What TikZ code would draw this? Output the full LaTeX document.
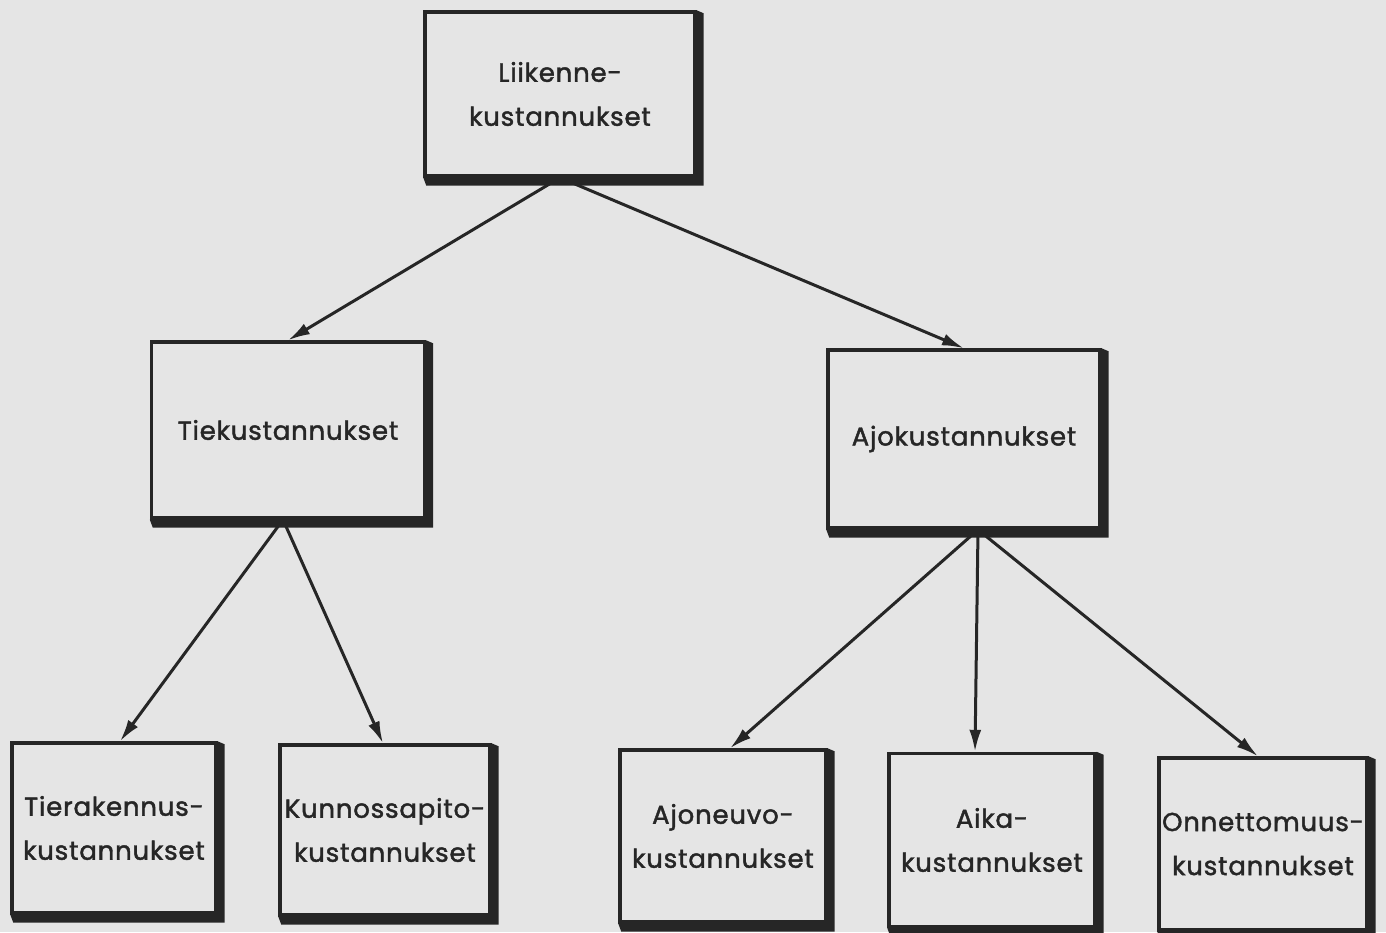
\documentclass[tikz,border=0pt]{standalone}
\usepackage{fontspec}
\setmainfont{Poppins}[LetterSpace=3, FakeBold=1.6]
\usetikzlibrary{arrows.meta,calc}
\definecolor{ink}{HTML}{262626}
\definecolor{paper}{HTML}{E5E5E5}
\newcommand\boxshadow[1]{%
  \fill[ink] (#1.south west) -- (#1.south east) -- (#1.north east)
    -- ([shift={(7,3)}]#1.north east) -- ([shift={(7,8)}]#1.south east)
    -- ([shift={(3,8)}]#1.south west) -- cycle;}
\begin{document}
\begin{tikzpicture}[x=1pt,y=-1pt,
  box/.style={draw=ink, line width=3.4pt, fill=paper, align=center, inner sep=0pt,
    font=\fontsize{26}{44}\selectfont, text=ink},
  arr/.style={draw=ink, line width=3pt, -{Latex[length=22pt,width=12pt]}}]
\fill[paper] (0,0) rectangle (1386,932);
\useasboundingbox (0,0) rectangle (1386,932);
\clip (0,0) rectangle (1386,932);

\node[box, minimum width=270, minimum height=164] (top) at (560,94) {Liikenne-\\kustannukset};
\node[box, minimum width=273, minimum height=176] (tie) at (288,430) {Tiekustannukset};
\node[box, minimum width=272, minimum height=178] (ajo) at (964,439) {Ajokustannukset};
\node[box, minimum width=204, minimum height=170] (tierak) at (114,828) {Tierakennus-\\kustannukset};
\node[box, minimum width=210, minimum height=170] (kunn) at (385,830) {Kunnossapito-\\kustannukset};
\node[box, minimum width=206, minimum height=172] (ajon) at (723,836) {Ajoneuvo-\\kustannukset};
\node[box, minimum width=206, minimum height=173] (aika) at (992,840) {Aika-\\kustannukset};
\node[box, minimum width=208, minimum height=172] (onn) at (1263,844) {Onnettomuus-\\kustannukset};

\foreach \n in {top,tie,ajo,tierak,kunn,ajon,aika,onn} {\boxshadow{\n}}

\draw[arr] (top.south) -- (tie.north);
\draw[arr] (top.south) -- (ajo.north);
\draw[arr] ([xshift=-5]tie.south) -- ([xshift=6]tierak.north);
\draw[arr] ([xshift=-5]tie.south) -- ([xshift=-2]kunn.north);
\draw[arr] ([xshift=14]ajo.south) -- ([xshift=7]ajon.north);
\draw[arr] ([xshift=14]ajo.south) -- ([xshift=-17]aika.north);
\draw[arr] ([xshift=14]ajo.south) -- ([xshift=-5]onn.north);
\end{tikzpicture}
\end{document}
